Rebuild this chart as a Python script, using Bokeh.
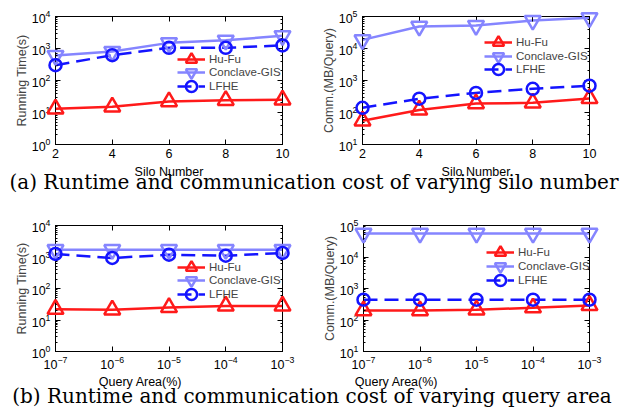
from bokeh.plotting import figure
from bokeh.layouts import column, row
from bokeh.models import (LogAxis, LinearAxis, FixedTicker, LogTicker, Legend,
                          LegendItem, Label, Range1d, CustomJSTickFormatter)
from bokeh.embed import file_html
from bokeh.resources import INLINE

# ---------------- data ----------------
silo = [2, 4, 6, 8, 10]
area = [1e-7, 1e-6, 1e-5, 1e-4, 1e-3]

rt_silo_hufu = [13, 15, 22, 24, 25]
rt_silo_conclave = [600, 800, 1500, 1800, 2500]
rt_silo_lfhe = [300, 620, 1050, 1050, 1250]

comm_silo_hufu = [55, 120, 190, 200, 275]
comm_silo_conclave = [18600, 49000, 52000, 75000, 91000]
comm_silo_lfhe = [140, 270, 410, 550, 690]

rt_area_hufu = [22, 21, 25, 28, 28]
rt_area_conclave = [1700, 1700, 1700, 1700, 1700]
rt_area_lfhe = [1250, 930, 1180, 1100, 1340]

comm_area_hufu = [200, 200, 210, 245, 290]
comm_area_conclave = [56000, 56000, 56000, 56000, 56000]
comm_area_lfhe = [440, 440, 440, 440, 440]

series_names = ["Hu-Fu", "Conclave-GIS", "LFHE"]
caption_a = "(a) Runtime and communication cost of varying silo number"
caption_b = "(b) Runtime and communication cost of varying query area"
xlabel_a = "Silo Number"
xlabel_b = "Query Area(%)"
ylabel_rt = "Running Time(s)"
ylabel_comm = "Comm.(MB/Query)"

# ---------------- style ----------------
RED = "#ff1a1a"
LIGHT = "#8585ff"
BLUE = "#1414ff"
SANS = "Liberation Sans"
SERIF = "DejaVu Serif"


def style_axis(ax, minor=True):
    ax.axis_line_color = "black"
    ax.axis_line_width = 1
    ax.major_tick_in = 5
    ax.major_tick_out = 0
    ax.major_tick_line_color = "black"
    ax.minor_tick_in = 2 if minor else 0
    ax.minor_tick_out = 0
    ax.minor_tick_line_color = "black" if minor else None
    ax.major_label_text_font = SANS
    ax.major_label_text_font_size = "12.5px"
    ax.major_label_text_color = "black"
    ax.major_label_standoff = 5


def make_panel(x, ys, xlog, yr, ylabel, w, h, bl, br, bt, bb, leg_x, leg_ys):
    kw = dict(width=w, height=h, y_axis_type="log",
              x_range=Range1d(x[0], x[-1]), y_range=Range1d(*yr),
              toolbar_location=None, output_backend="svg",
              min_border_left=bl, min_border_right=br,
              min_border_top=bt, min_border_bottom=bb)
    if xlog:
        p = figure(x_axis_type="log", **kw)
        p.xaxis.ticker = LogTicker(desired_num_ticks=5, num_minor_ticks=0)
    else:
        p = figure(**kw)
        p.xaxis.ticker = FixedTicker(ticks=x, minor_ticks=[])
    style_axis(p.xaxis[0], minor=False)
    p.xaxis.major_label_standoff = 4
    style_axis(p.yaxis[0])
    p.yaxis.axis_label = ylabel
    p.yaxis.axis_label_text_font = SANS
    p.yaxis.axis_label_text_font_size = "12.5px"
    p.yaxis.axis_label_text_font_style = "normal"
    p.yaxis.axis_label_standoff = 0
    p.xgrid.visible = False
    p.ygrid.visible = False
    p.outline_line_color = "black"
    p.outline_line_width = 1
    p.background_fill_color = "white"
    p.border_fill_color = "white"

    blank = CustomJSTickFormatter(code="return ''")
    # mirrored axes (ticks only)
    if xlog:
        top = LogAxis(ticker=LogTicker(desired_num_ticks=5, num_minor_ticks=0),
                      formatter=blank)
    else:
        top = LinearAxis(ticker=FixedTicker(ticks=x, minor_ticks=[]), formatter=blank)
    style_axis(top, minor=False)
    top.major_label_text_font_size = "0px"
    top.major_label_standoff = 0
    p.add_layout(top, "above")
    right = LogAxis(formatter=blank)
    style_axis(right)
    right.major_label_text_font_size = "0px"
    right.major_label_standoff = 0
    p.add_layout(right, "right")

    colors = [RED, LIGHT, BLUE]
    markers = ["triangle", "inverted_triangle", "circle"]
    sizes = [16, 16, 12]
    dashes = ["solid", "solid", "14 7"]
    for name, yv, c, m, s, d, ly in zip(series_names, ys, colors, markers, sizes,
                                        dashes, leg_ys):
        ln = p.line(x, yv, line_color=c, line_width=2.5, line_dash=d)
        sc = p.scatter(x, yv, marker=m, size=s, line_color=c, line_width=2.5,
                       fill_alpha=0, level="overlay")
        leg = Legend(items=[LegendItem(label=name, renderers=[ln, sc])],
                     location=(leg_x, ly))
        leg.border_line_alpha = 0
        leg.background_fill_alpha = 0
        leg.padding = 0
        leg.margin = 0
        leg.spacing = 0
        leg.label_height = 13
        leg.glyph_height = 38
        leg.glyph_width = 28
        leg.label_standoff = 4
        leg.label_text_font = SANS
        leg.label_text_font_size = "11.5px"
        p.add_layout(leg)
    return p


def make_strip(h, labels, caption, cap_x, cap_y):
    s = figure(width=628, height=h, x_range=Range1d(0, 628), y_range=Range1d(h, 0),
               toolbar_location=None, output_backend="svg", min_border=0,
               x_axis_location=None, y_axis_location=None)
    s.xgrid.visible = False
    s.ygrid.visible = False
    s.outline_line_color = None
    for (lx, ly, txt) in labels:
        s.add_layout(Label(x=lx, y=ly, text=txt, text_align="center",
                           text_baseline="middle", text_font=SANS,
                           text_font_size="12.5px", text_color="black"))
    s.add_layout(Label(x=cap_x, y=cap_y, text=caption, text_align="center",
                       text_baseline="middle", text_font=SERIF,
                       text_font_size="20px", text_color="black"))
    return s


p1 = make_panel(silo, [rt_silo_hufu, rt_silo_conclave, rt_silo_lfhe], False, (1, 1e4),
                ylabel_rt, 314, 166, 55, 32, 15, 20, 122, [66, 53, 39])
p2 = make_panel(silo, [comm_silo_hufu, comm_silo_conclave, comm_silo_lfhe], False, (10, 1e5),
                ylabel_comm, 314, 166, 48, 39, 16, 22, 122, [83, 69, 56])
p3 = make_panel(area, [rt_area_hufu, rt_area_conclave, rt_area_lfhe], True, (1, 1e4),
                ylabel_rt, 314, 170, 55, 32, 20, 24, 122, [65, 52, 38])
p4 = make_panel(area, [comm_area_hufu, comm_area_conclave, comm_area_lfhe], True, (10, 1e5),
                ylabel_comm, 314, 170, 49, 39, 19, 24, 123, [80, 66, 52])

sa = make_strip(39, [(168.5, 5, xlabel_a), (475.5, 5, xlabel_a)], caption_a, 313.5, 15.5)
sb = make_strip(38, [(140, 6, xlabel_b), (396, 6, xlabel_b)], caption_b, 311.5, 20)

layout = column(row(p1, p2, spacing=0), sa, row(p3, p4, spacing=0), sb, spacing=0)

open("out.html", "w").write(file_html(layout, INLINE))
